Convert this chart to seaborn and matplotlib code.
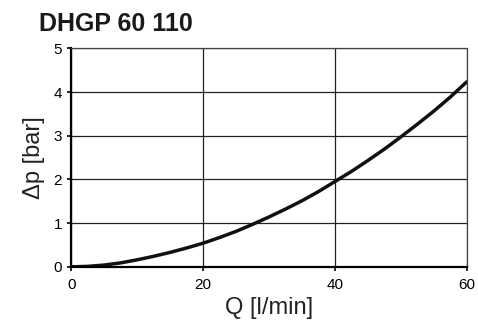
import matplotlib
matplotlib.use("Agg")
import matplotlib.pyplot as plt
import seaborn as sns
import pandas as pd

# pressure drop curve
flow = [0, 2.5, 5, 7.5, 10, 12.5, 15, 17.5, 20, 22.5, 25, 27.5, 30,
        32.5, 35, 37.5, 40, 42.5, 45, 47.5, 50, 52.5, 55, 57.5, 60]
dp = [0.0, 0.01, 0.04, 0.09, 0.16, 0.24, 0.33, 0.43, 0.54, 0.67, 0.81, 0.97, 1.14,
      1.32, 1.51, 1.72, 1.95, 2.18, 2.43, 2.69, 2.97, 3.26, 3.56, 3.88, 4.23]
x_ticks = [0, 20, 40, 60]
y_ticks = [0, 1, 2, 3, 4, 5]

df = pd.DataFrame({"Q": flow, "dp": dp})

sns.set_style("white")
plt.rcParams["font.family"] = ["Liberation Sans", "DejaVu Sans"]

fig = plt.figure(figsize=(4.78, 3.29), dpi=100)
ax = fig.add_axes([0.149, 0.189, 0.827, 0.664])

sns.lineplot(data=df, x="Q", y="dp", ax=ax, color="#111111", linewidth=2.5)

ax.set_xlim(0, 60)
ax.set_ylim(0, 5)
ax.set_xticks(x_ticks)
ax.set_yticks(y_ticks)
ax.grid(True, color="#222222", linewidth=0.9)

for side in ["top", "right"]:
    ax.spines[side].set_color("#444444")
    ax.spines[side].set_linewidth(0.9)
for side in ["left", "bottom"]:
    ax.spines[side].set_color("black")
    ax.spines[side].set_linewidth(1.6)

ax.tick_params(axis="both", direction="out", length=3, width=1.2,
               labelsize=11, colors="black", left=True, bottom=True)
ax.tick_params(axis="x", pad=5)

ax.set_xlabel("Q [l/min]", fontsize=17, labelpad=4, color="#222222")
ax.set_ylabel("Δp [bar]", fontsize=17, labelpad=6, color="#222222")

fig.text(0.082, 0.905, "DHGP 60 110", fontsize=18, fontweight="bold", color="#1a1a1a")

fig.savefig("out.png", dpi=100)
